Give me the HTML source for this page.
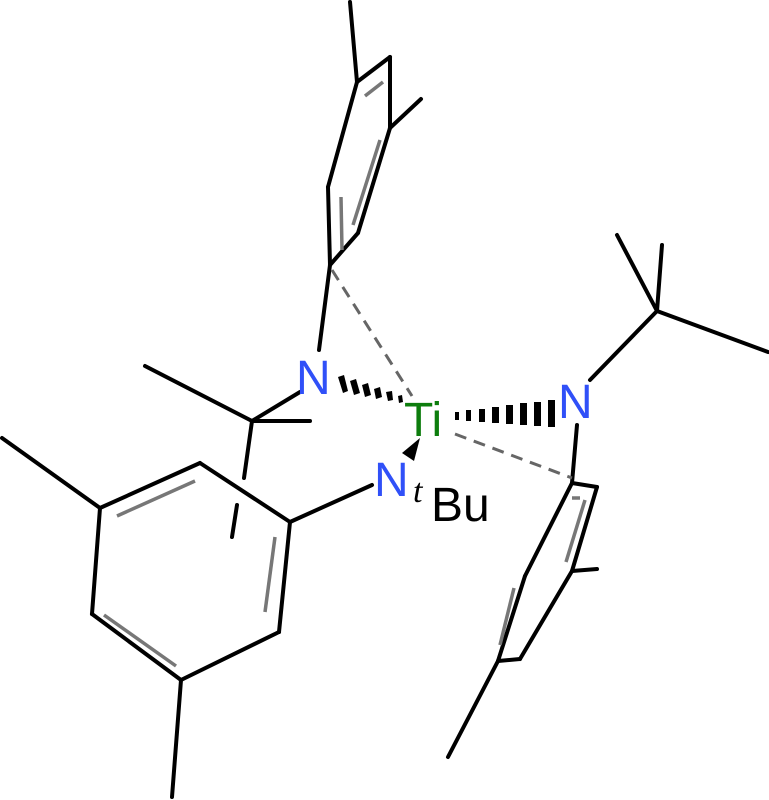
<!DOCTYPE html>
<html><head><style>body{margin:0;background:#fff}svg{display:block}</style></head><body>
<svg width="769" height="800" viewBox="0 0 769 800" xmlns="http://www.w3.org/2000/svg">
<g stroke="#000" stroke-width="4" fill="none" stroke-linecap="round">
<line x1="350" y1="2" x2="357" y2="82"/>
<line x1="357" y1="82" x2="390" y2="57"/>
<line x1="390" y1="57" x2="390" y2="128"/>
<line x1="390" y1="128" x2="421" y2="99"/>
<line x1="390" y1="128" x2="358" y2="233"/>
<line x1="358" y1="233" x2="330" y2="265"/>
<line x1="330" y1="265" x2="328" y2="187"/>
<line x1="328" y1="187" x2="357" y2="82"/>
<line x1="330" y1="265" x2="319" y2="350"/>
<line x1="300" y1="392" x2="252" y2="421"/>
<line x1="252" y1="421" x2="145" y2="366"/>
<line x1="252" y1="421" x2="310" y2="421"/>
<line x1="252" y1="421" x2="244" y2="478"/>
<line x1="237" y1="505" x2="232" y2="537"/>
<line x1="590" y1="380" x2="657" y2="311"/>
<line x1="657" y1="311" x2="617" y2="235"/>
<line x1="657" y1="311" x2="662" y2="245"/>
<line x1="657" y1="311" x2="768" y2="352"/>
<line x1="577" y1="425" x2="572" y2="483"/>
<line x1="572" y1="483" x2="597" y2="487"/>
<line x1="597" y1="487" x2="572" y2="571"/>
<line x1="572" y1="571" x2="597" y2="569"/>
<line x1="572" y1="571" x2="520" y2="659"/>
<line x1="520" y1="659" x2="498" y2="661"/>
<line x1="498" y1="661" x2="525" y2="576"/>
<line x1="525" y1="576" x2="572" y2="483"/>
<line x1="498" y1="661" x2="448" y2="757"/>
<line x1="372" y1="485" x2="290" y2="522"/>
<line x1="290" y1="522" x2="200" y2="463"/>
<line x1="200" y1="463" x2="100" y2="508"/>
<line x1="100" y1="508" x2="92" y2="614"/>
<line x1="92" y1="614" x2="181" y2="680"/>
<line x1="181" y1="680" x2="279" y2="632"/>
<line x1="279" y1="632" x2="290" y2="522"/>
<line x1="100" y1="508" x2="2" y2="438"/>
<line x1="181" y1="680" x2="172" y2="797"/>
</g>
<g stroke="#777" stroke-width="3.5" fill="none">
<line x1="365" y1="96" x2="383" y2="82"/>
<line x1="380" y1="140" x2="353" y2="225"/>
<line x1="341" y1="197" x2="342" y2="250"/>
<line x1="585" y1="500" x2="566" y2="562"/>
<line x1="514" y1="588" x2="500" y2="645"/>
<line x1="275" y1="537" x2="265" y2="612"/>
<line x1="195" y1="481" x2="117" y2="516"/>
<line x1="104" y1="615" x2="176" y2="666"/>
<line x1="572" y1="498" x2="580" y2="498"/>
</g>
<g stroke="#666" stroke-width="3" stroke-dasharray="12,8" fill="none">
<line x1="332" y1="270" x2="412" y2="396"/>
<line x1="455" y1="434" x2="572" y2="478"/>
</g>
<g fill="#000">
<polygon points="338,377 343,393 348,391 344,375"/>
<polygon points="350,381 354,395 360,393 356,379"/>
<polygon points="362,385 365,397 371,395 368,383"/>
<polygon points="374,389 376,399 382,397 380,387"/>
<polygon points="386,392 388,401 393,400 392,391"/>
<polygon points="398,396 399,403 403,402 402,395"/>
<polygon points="455,412 455,420 459,420 459,412"/>
<polygon points="466,410 466,421 471,421 471,410"/>
<polygon points="479,409 479,422 485,422 485,409"/>
<polygon points="492,407 492,423 499,423 499,407"/>
<polygon points="506,405 506,424 513,424 513,405"/>
<polygon points="520,403 520,425 527,425 527,403"/>
<polygon points="534,402 534,426 541,426 541,402"/>
<polygon points="548,400 548,427 555,427 555,400"/>
<polygon points="420,438 402,453 414,461"/>
</g>
<g font-family="Liberation Sans, DejaVu Sans, sans-serif" font-size="48">
<text x="296" y="394" fill="#3050F8">N</text>
<text x="404" y="436" fill="#0d7d0d">Ti</text>
<text x="558" y="418" fill="#3050F8">N</text>
<text x="374" y="496" fill="#3050F8">N</text>
<text x="431" y="521" fill="#000">Bu</text>
</g>
<text x="413" y="502" font-family="Liberation Serif, serif" font-style="italic" font-size="34">t</text>
</svg>
</body></html>
